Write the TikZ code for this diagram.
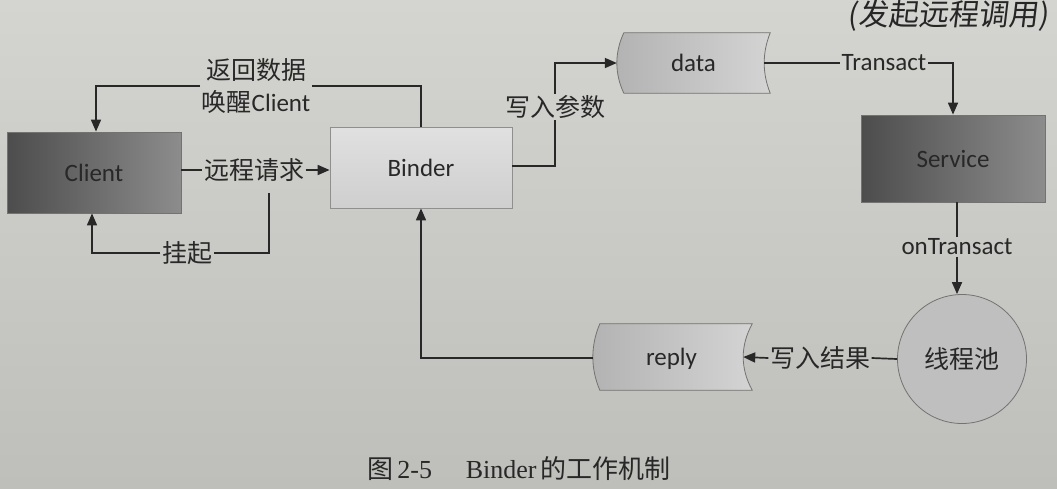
\documentclass[tikz,border=0pt]{standalone}
\usepackage{fontspec}
\setmainfont{Carlito}
\newfontfamily\cjk{Noto Sans CJK SC}
\newfontfamily\capserif{Liberation Serif}
\newfontfamily\hand[FakeSlant=0.12]{Noto Sans CJK SC}
\usetikzlibrary{arrows.meta,calc}
\definecolor{bgtop}{RGB}{212,212,208}
\definecolor{bgbot}{RGB}{190,190,186}
\definecolor{ink}{RGB}{40,40,40}
\definecolor{edge}{RGB}{115,115,113}
\tikzset{
  lbl/.style={inner sep=1.5pt, text=ink, font=\fontsize{25}{28}\selectfont},
  conn/.style={draw=ink, line width=1.7pt},
  arr/.style={conn, -{Triangle[length=12pt,width=10pt]}},
  darkbox/.style={rectangle, draw=edge, line width=0.8pt, left color=black!70, right color=black!45, text=ink},
  lightbox/.style={rectangle, draw=edge!80, line width=0.8pt, top color=black!12, bottom color=black!19, text=ink},
  stored/.style={rectangle, inner sep=0pt, text=ink},
  storefill/.style={draw=edge, line width=0.8pt, left color=black!30, right color=black!17},
}
\begin{document}
\begin{tikzpicture}[x=1pt,y=-1pt, font=\fontsize{25}{28}\selectfont]
\useasboundingbox (0,0) rectangle (1057,488);
\fill[top color=bgtop, bottom color=bgbot] (0,0) rectangle (1057,488);

% main nodes
\node[darkbox, minimum width=174pt, minimum height=81pt] (client) at (94,172.5) {Client};
\node[lightbox, minimum width=182pt, minimum height=81pt] (binder) at (421,167.5) {Binder};
\node[darkbox, minimum width=184pt, minimum height=87pt] (service) at (953,158.5) {Service};
\node[circle, draw=edge, line width=0.8pt, fill=black!25, text=ink, minimum size=129pt, inner sep=0pt] (pool) at (962,359) {\cjk 线程池};

% stored-data shapes
\node[stored, minimum width=153pt, minimum height=60pt] (data) at (693.5,63) {};
\path[storefill] ($(data.north west)+(7,0)$) -- (data.north east)
  .. controls +(-8,20) and +(-8,-20) .. (data.south east)
  -- ($(data.south west)+(7,0)$)
  .. controls +(-9.3,-20) and +(-9.3,20) .. ($(data.north west)+(7,0)$) -- cycle;
\node[text=ink] at (data.center) {data};
\coordinate (datain) at (data.west);
\coordinate (dataout) at ($(data.east)+(-6,0)$);

\node[stored, minimum width=159pt, minimum height=66pt] (reply) at (672.5,357) {};
\path[storefill] ($(reply.north west)+(7,0)$) -- (reply.north east)
  .. controls +(-12,22) and +(-12,-22) .. (reply.south east)
  -- ($(reply.south west)+(7,0)$)
  .. controls +(-9.3,-22) and +(-9.3,22) .. ($(reply.north west)+(7,0)$) -- cycle;
\node[text=ink] at ($(reply.center)+(-1,2)$) {reply};
\coordinate (replyin) at ($(reply.east)+(-9,0)$);

% labels
\node[lbl] (lreq) at (254,170) {\cjk 远程请求};
\node[lbl] (lhang) at (187,253) {\cjk 挂起};
\node[lbl, align=center, font=\fontsize{25}{32}\selectfont] (lret) at (256,86) {{\cjk 返回数据}\\{\cjk 唤醒}Client};
\node[lbl] (lparam) at (555,107) {\cjk 写入参数};
\node[lbl] (ltrans) at (884,63) {Transact};
\node[lbl] (lon) at (957,247) {onTransact};
\node[lbl] (lres) at (820,358) {\cjk 写入结果};
\coordinate (hang) at (269,193);

% connectors
\draw[conn] (client.east |- lreq) -- (lreq.west);
\draw[arr] (lreq.east) -- (binder.west |- lreq);

\draw[conn] (hang) |- (lhang.east);
\draw[arr] (lhang.west) -| ($(client.south)+(-2,0)$);

\draw[conn] (binder.north) |- (lret.east);
\draw[arr] (lret.west) -| ($(client.north)+(2,0)$);

\draw[conn] (binder.east |- 0,166) -| (lparam.south);
\draw[arr] (lparam.north) |- (datain);

\draw[conn] (dataout) -- (ltrans.west);
\draw[arr] (ltrans.east) -| (service.north);

\draw[conn] (lon.north |- service.south) -- (lon.north);
\draw[arr] (lon.south) -- (lon.south |- pool.north);

\draw[conn] (pool.west) -- (lres.east);
\draw[arr] (lres.west) -- (replyin);

\draw[arr] ($(reply.west)+(0,1)$) -| (binder.south);

% handwritten note
\node[text=black!85, font=\fontsize{30}{32}\selectfont\hand] (note) at (948,16) {(发起远程调用)};

% caption
\node[text=ink, font=\fontsize{26}{28}\selectfont] (cap) at (519,469) {{\cjk 图}\,{\capserif 2-5}\hspace{1.3em}{\capserif Binder}\,{\cjk 的工作机制}};
\end{tikzpicture}
\end{document}
